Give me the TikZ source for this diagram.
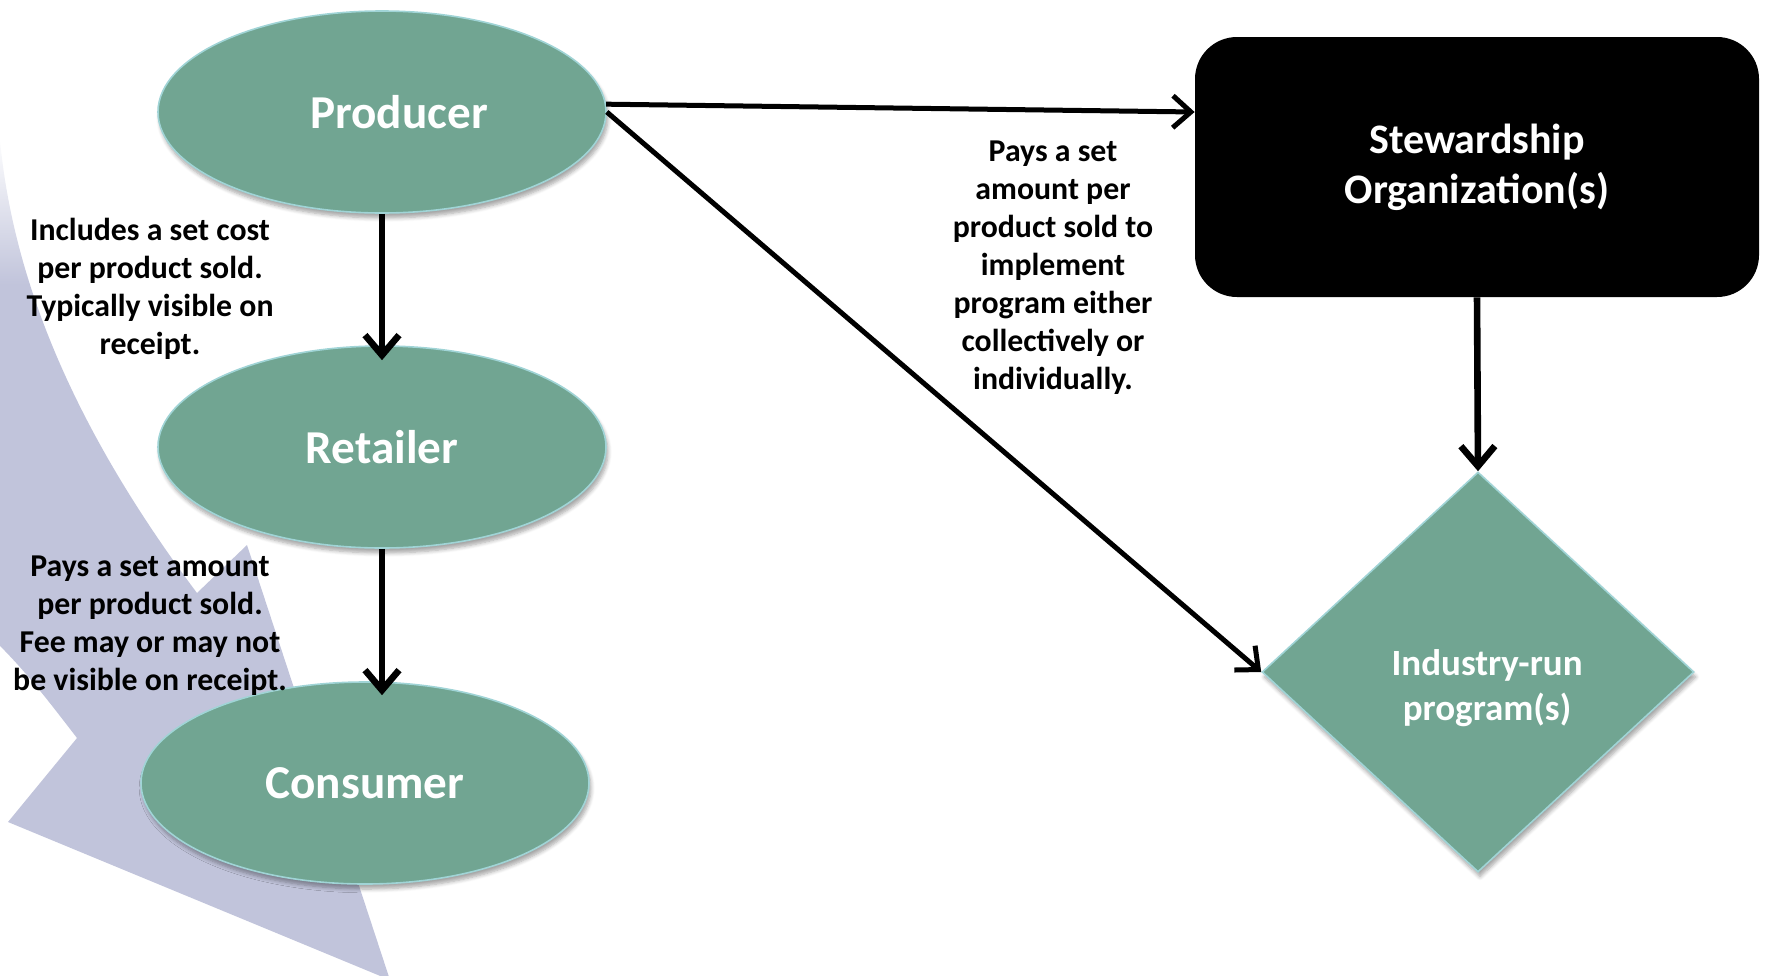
\documentclass[tikz,border=0pt]{standalone}
\usepackage{fontspec}
\setmainfont{Carlito}
\usetikzlibrary{shapes.geometric,arrows.meta,calc,shadows.blur}
\definecolor{stagegreen}{RGB}{113,165,146}
\definecolor{stageedge}{RGB}{160,212,214}
\definecolor{bandblue}{RGB}{193,196,219}
\pgfdeclareverticalshading{bandfade}{100bp}{color(0bp)=(bandblue); color(62bp)=(bandblue); color(70bp)=(white); color(100bp)=(white)}

\begin{document}
\begin{tikzpicture}[x=0.5pt,y=-0.5pt,
	stage/.style={ellipse, fill=stagegreen, draw=stageedge, line width=0.8pt, minimum width=224pt, minimum height=101pt, text=white, font=\bfseries\fontsize{23.6}{28}\selectfont, blur shadow={shadow xshift=1pt, shadow yshift=-2.5pt, shadow opacity=35, shadow blur steps=6}},
	org/.style={rectangle, rounded corners=21pt, fill=black, minimum width=282pt, minimum height=130pt, text=white, align=center, font=\bfseries\fontsize{21}{25}\selectfont},
	prog/.style={diamond, fill=stagegreen, draw=stageedge, line width=0.8pt, minimum width=216pt, minimum height=200pt, blur shadow={shadow xshift=1pt, shadow yshift=-2.5pt, shadow opacity=35, shadow blur steps=6}},
	progtext/.style={text=white, align=center, font=\bfseries\fontsize{18.5}{22.5}\selectfont},
	note/.style={align=center, font=\bfseries\fontsize{15.9}{19}\selectfont},
	flow/.style={line width=2.5pt, -{Straight Barb[length=9pt,width=16pt]}},
	bigflow/.style={line width=3.3pt, -{Straight Barb[length=10pt,width=17pt]}}]
		\useasboundingbox (0,0) rectangle (1765,975);
		
		\begin{scope}
		\clip (0,0) rectangle (1765,975);
		\shade[shading=bandfade] (-40,40) -- (0,140) .. controls (15,300) and (90,450) .. (197,593) -- (247,545) -- (390,980) -- (8,822) -- (77,738) .. controls (40,690) and (10,650) .. (-40,610) -- cycle;
		\end{scope}
		
		\node[stage] (prod) at (382,112) {\hspace*{17pt}Producer};
		\node[stage] (ret) at (382,447) {Retailer};
		\node[stage] (con) at (365,783) {Consumer};
		
		\node[org] (stew) at (1477,167) {Stewardship\\Organization(s)};
		\node[prog] (ind) at (1478,672) {};
		\node[progtext] (indtext) at (1487,688) {Industry-run\\program(s)};
		
		\node[note] (costnote) at (150,289) {Includes a set cost\\per product sold.\\Typically visible on\\receipt.};
		\node[note] (feenote) at (150,626) {Pays a set amount\\per product sold.\\Fee may or may not\\be visible on receipt.};
		\node[note] (paynote) at (1053,268) {Pays a set\\amount per\\product sold to\\implement\\program either\\collectively or\\individually.};
		
		\draw[bigflow] (prod.south) -- ($(ret.north)+(0,15)$);
		\draw[bigflow] (ret.south) -- ($(ret.south |- con.north)+(0,14)$);
		\draw[flow] (prod.2) -- ([yshift=27.5pt]stew.west);
		\draw[flow] (prod.east) -- (ind.west);
		\draw[bigflow] (stew.south) -- (ind.north);
		
	\end{tikzpicture}
\end{document}
